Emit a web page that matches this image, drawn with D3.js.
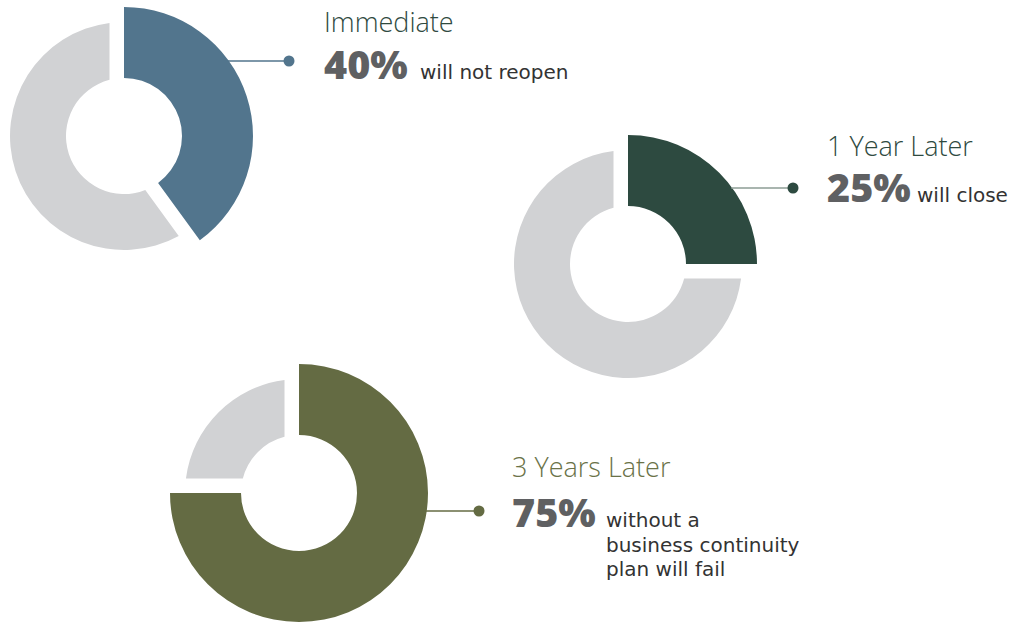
<!DOCTYPE html>
<html>
<head>
<meta charset="utf-8">
<script src="https://cdn.jsdelivr.net/npm/d3@7"></script>
<style>
  html, body { margin: 0; padding: 0; background: #ffffff; }
  svg { display: block; }
</style>
</head>
<body>
<svg id="chart" width="1012" height="622"></svg>
<script>
// ---- data ----
const stages = ["Immediate", "1 Year Later", "3 Years Later"];
const shares = [40, 25, 75];              // highlighted percentage
const shareLabels = ["40%", "25%", "75%"];
const descriptions = [
  ["will not reopen"],
  ["will close"],
  ["without a", "business continuity", "plan will fail"]
];

// ---- styles / layout ----
const accent = ["#52758d", "#2d4a40", "#646b43"];
const lineColors = ["#52758d", "#8d9c95", "#646b43"];
const titleColors = ["#2f4a3f", "#2f4a3f", "#6a7248"];
const restColor = "#d1d2d4";
const layout = [
  { cx: 124, cy: 136, ly: 61,  dotX: 289, tx: 324, titleY: 32,  pctY: 79,  dx: 420 },
  { cx: 628, cy: 264, ly: 188, dotX: 793, tx: 827, titleY: 156, pctY: 202, dx: 917 },
  { cx: 299, cy: 493, ly: 511, dotX: 479, tx: 512, titleY: 477, pctY: 527, dx: 606 }
];
const rOuterHi = 129, rOuterRest = 114, rInner = 58, gap = 14.5;
const padR = 100;
const padA = 2 * Math.asin(gap / padR);
const fontFam = "'Open Sans', Lato, sans-serif";
const descFont = "'DejaVu Sans', 'Open Sans', sans-serif";

const svg = d3.select("#chart");
const pie = d3.pie().sort(null).value(d => d.v);
const arcHi = d3.arc().innerRadius(rInner).outerRadius(rOuterHi);
const arcRest = d3.arc().innerRadius(rInner).outerRadius(rOuterRest)
  .padRadius(padR).padAngle(padA);

stages.forEach((stage, i) => {
  const L = layout[i];
  const data = pie([{ k: "hi", v: shares[i] }, { k: "rest", v: 100 - shares[i] }]);
  const g = svg.append("g").attr("transform", `translate(${L.cx},${L.cy})`);

  // leader line (from outer edge of highlighted slice to dot)
  const dy = L.ly - L.cy;
  const x0 = L.cx + Math.sqrt(rOuterHi * rOuterHi - dy * dy) - 1;
  svg.append("line")
    .attr("x1", x0).attr("x2", L.dotX)
    .attr("y1", L.ly).attr("y2", L.ly)
    .attr("stroke", lineColors[i]).attr("stroke-width", 1.3);
  svg.append("circle")
    .attr("cx", L.dotX).attr("cy", L.ly).attr("r", 5.5)
    .attr("fill", accent[i]);

  g.selectAll("path").data(data).join("path")
    .attr("d", d => d.data.k === "hi" ? arcHi(d) : arcRest(d))
    .attr("fill", d => d.data.k === "hi" ? accent[i] : restColor);

  svg.append("text")
    .attr("x", L.tx).attr("y", L.titleY)
    .attr("font-family", fontFam)
    .attr("font-weight", 300)
    .attr("font-size", 27)
    .attr("fill", titleColors[i])
    .text(stage);

  svg.append("text")
    .attr("x", L.tx).attr("y", L.pctY)
    .attr("font-family", fontFam)
    .attr("font-weight", 800)
    .attr("font-size", 39.5)
    .attr("fill", "#5f6062")
    .text(shareLabels[i]);

  descriptions[i].forEach((line, j) => {
    svg.append("text")
      .attr("x", L.dx).attr("y", L.pctY + j * 24.5)
      .attr("font-family", descFont)
      .attr("font-weight", 400)
      .attr("font-size", 20)
      .attr("fill", "#333333")
      .text(line);
  });
});
</script>
</body>
</html>
